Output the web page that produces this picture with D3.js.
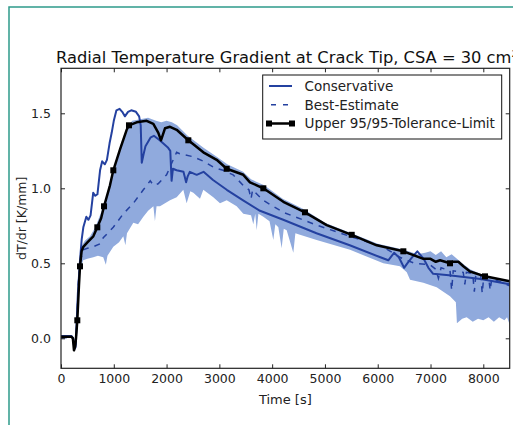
<!DOCTYPE html>
<html>
<head>
<meta charset="utf-8">
<script src="https://cdn.jsdelivr.net/npm/d3@7"></script>
<style>
  html, body { margin: 0; padding: 0; background: #fff; overflow: hidden; }
  svg { display: block; }
  text { font-family: "DejaVu Sans", sans-serif; }
</style>
</head>
<body>
<svg id="chart" width="513" height="425"></svg>
<script>
// ---------- data ----------
const xTicks = [0, 1000, 2000, 3000, 4000, 5000, 6000, 7000, 8000];
const yTicks = [0.0, 0.5, 1.0, 1.5];
const legendLabels = ["Conservative", "Best-Estimate", "Upper 95/95-Tolerance-Limit"];

const conservative = [
  [0,0.0],[10,0.015],[200,0.015],[230,0.0],[255,-0.07],[275,-0.06],[290,0.05],[320,0.30],[360,0.52],[392,0.66],[423,0.74],[480,0.81],
  [520,0.79],[560,0.82],[610,0.97],[650,0.95],[690,0.96],[740,1.12],[780,1.18],[830,1.16],[870,1.19],[920,1.30],[960,1.37],
  [1000,1.45],[1050,1.52],[1110,1.53],[1160,1.51],[1210,1.48],[1270,1.51],[1330,1.52],[1420,1.51],[1480,1.48],[1510,1.42],
  [1530,1.17],[1560,1.22],[1600,1.28],[1700,1.34],[1760,1.35],[1870,1.32],[2030,1.27],[2070,1.25],[2095,1.05],[2120,1.13],
  [2190,1.12],[2320,1.11],[2370,1.04],[2400,1.08],[2440,1.11],[2570,1.09],[2700,1.11],[2880,1.055],[3140,0.99],[3450,0.92],
  [3770,0.85],[4210,0.79],[4840,0.70],[5470,0.62],[6050,0.54],[6200,0.52],[6310,0.57],[6400,0.54],[6500,0.47],[6560,0.50],
  [6650,0.54],[6750,0.58],[6870,0.53],[6960,0.47],[7050,0.43],[7350,0.42],[7950,0.395],[8500,0.36]
];

const bestEstimate = [
  [0,0.0],[200,0.01],[230,0.0],[255,-0.06],[280,-0.04],[300,0.10],[330,0.38],[370,0.52],[420,0.59],[500,0.60],[610,0.61],
  [740,0.63],[800,0.67],[990,0.74],[1180,0.83],[1370,0.90],[1560,0.99],[1690,1.05],[1750,1.02],[1840,1.03],[2000,1.09],
  [2100,1.17],[2190,1.24],[2250,1.23],[2510,1.21],[2700,1.18],[2890,1.14],[3070,1.12],[3260,1.09],[3450,1.02],[3560,0.99],
  [3600,0.93],[3630,0.99],[3830,0.92],[4210,0.84],[4840,0.755],[5470,0.68],[6100,0.61],[6420,0.54],[6550,0.52],[6700,0.50],
  [6990,0.49],[7100,0.46],[7150,0.40],[7200,0.47],[7370,0.45],[7400,0.32],[7430,0.45],[7620,0.44],[7650,0.36],[7680,0.44],
  [7800,0.43],[7830,0.31],[7860,0.43],[7950,0.42],[7980,0.30],[8010,0.42],[8100,0.41],[8130,0.32],[8160,0.40],[8500,0.35]
];

const upperLimit = [
  [0,0.01],[200,0.01],[225,0.0],[246,-0.08],[270,-0.05],[284,0.0],[309,0.12],[340,0.35],[360,0.48],[390,0.58],[423,0.61],
  [500,0.64],[612,0.68],[688,0.74],[760,0.80],[815,0.88],[928,1.02],[991,1.12],[1118,1.26],[1244,1.39],[1288,1.42],
  [1433,1.44],[1623,1.45],[1749,1.43],[1844,1.37],[1894,1.32],[1970,1.40],[2065,1.41],[2191,1.39],[2412,1.32],[2696,1.24],
  [2949,1.19],[3139,1.13],[3454,1.09],[3580,1.04],[3833,1.00],[4212,0.91],[4622,0.84],[5033,0.755],[5507,0.69],[5981,0.62],
  [6485,0.58],[6864,0.53],[7000,0.53],[7100,0.51],[7180,0.52],[7369,0.50],[7420,0.51],[7527,0.51],[7622,0.48],[7748,0.445],
  [8032,0.413],[8500,0.38]
];

const upperMarkers = [
  [309,0.12],[360,0.48],[688,0.74],[815,0.88],[991,1.12],[1288,1.42],[2412,1.32],[3139,1.13],[3833,1.00],[4622,0.84],
  [5507,0.69],[6485,0.58],[7369,0.50],[8032,0.413]
];

const bandUpper = [
  [0,0.015],[200,0.015],[230,0.0],[250,-0.07],[280,-0.03],[300,0.12],[330,0.40],[360,0.52],[400,0.62],[450,0.65],[550,0.68],
  [650,0.74],[750,0.83],[850,0.93],[950,1.08],[1050,1.20],[1150,1.31],[1250,1.41],[1350,1.45],[1500,1.46],[1650,1.47],
  [1800,1.45],[1900,1.44],[2000,1.45],[2100,1.44],[2200,1.42],[2400,1.35],[2700,1.27],[2950,1.21],[3150,1.16],[3450,1.11],
  [3600,1.06],[3850,1.02],[4200,0.93],[4600,0.86],[5000,0.77],[5500,0.70],[6000,0.63],[6500,0.59],[6750,0.56],[6900,0.57],
  [7000,0.58],[7100,0.555],[7200,0.58],[7300,0.54],[7400,0.56],[7500,0.53],[7600,0.50],[7750,0.46],[8000,0.42],[8500,0.38]
];

const bandLower = [
  [0,0.0],[200,0.005],[230,-0.01],[250,-0.08],[275,-0.07],[300,0.05],[330,0.30],[360,0.45],[420,0.52],[500,0.53],[612,0.54],
  [700,0.55],[800,0.54],[850,0.49],[880,0.55],[991,0.61],[1100,0.64],[1180,0.68],[1220,0.62],[1250,0.70],[1370,0.77],
  [1460,0.76],[1560,0.81],[1650,0.85],[1750,0.88],[1780,0.78],[1810,0.88],[1875,0.88],[2065,0.92],[2191,0.94],[2317,0.99],
  [2380,0.90],[2450,0.98],[2507,0.97],[2633,0.93],[2696,0.99],[2885,0.94],[3012,0.90],[3139,0.92],[3328,0.88],[3454,0.83],
  [3600,0.82],[3643,0.76],[3680,0.83],[3707,0.72],[3740,0.83],[3833,0.81],[3950,0.78],[4022,0.655],[4060,0.76],[4117,0.74],
  [4180,0.60],[4220,0.73],[4275,0.72],[4401,0.57],[4440,0.70],[4527,0.69],[4843,0.655],[5475,0.59],[6106,0.50],[6422,0.48],
  [6550,0.44],[6612,0.39],[6864,0.37],[7116,0.34],[7369,0.28],[7480,0.24],[7500,0.10],[7600,0.13],[7685,0.14],[7800,0.11],
  [7900,0.13],[8000,0.12],[8100,0.14],[8200,0.11],[8300,0.14],[8400,0.12],[8450,0.14],[8500,0.09]
];

// ---------- layout ----------
const svg = d3.select("#chart");
const L = 61, R = 509.7, T = 68.3, B = 368.3;
const x = d3.scaleLinear().domain([0, 8500]).range([L, R]);
const y = d3.scaleLinear().domain([-0.2, 1.8]).range([B, T]);

const blue = "#2441a0";
const bandColor = "#90aadd";

// teal frame (screenshot border)
svg.append("path").attr("d", "M9,425V7H513").attr("fill", "none")
  .attr("stroke", "#2e9a8a").attr("stroke-width", 1.5);

svg.append("clipPath").attr("id", "clip").append("rect")
  .attr("x", L).attr("y", T).attr("width", R - L).attr("height", B - T);

const g = svg.append("g").attr("clip-path", "url(#clip)");
const line = d3.line().x(d => x(d[0])).y(d => y(d[1]));

// band
g.append("path")
  .attr("d", line(bandUpper.concat(bandLower.slice().reverse())) + "Z")
  .attr("fill", bandColor).attr("stroke", "none");

// best estimate (dashed)
g.append("path").attr("d", line(bestEstimate)).attr("fill", "none")
  .attr("stroke", blue).attr("stroke-width", 1.5).attr("stroke-dasharray", "6,6");

// conservative
g.append("path").attr("d", line(conservative)).attr("fill", "none")
  .attr("stroke", blue).attr("stroke-width", 2).attr("stroke-linejoin", "round");

// upper tolerance limit
g.append("path").attr("d", line(upperLimit)).attr("fill", "none")
  .attr("stroke", "#000").attr("stroke-width", 2.5).attr("stroke-linejoin", "round");
g.selectAll("rect.mk").data(upperMarkers).enter().append("rect").attr("class", "mk")
  .attr("x", d => x(d[0]) - 3).attr("y", d => y(d[1]) - 3)
  .attr("width", 6).attr("height", 6).attr("fill", "#000");

// ---------- axes ----------
const fs = "12.5px";
const ax = svg.append("g").attr("transform", `translate(0,${B})`)
  .call(d3.axisBottom(x).tickValues(xTicks).tickFormat(d3.format("d")).tickSize(-4).tickPadding(6));
const axT = svg.append("g").attr("transform", `translate(0,${T})`)
  .call(d3.axisTop(x).tickValues(xTicks).tickFormat("").tickSize(-4));
const ay = svg.append("g").attr("transform", `translate(${L},0)`)
  .call(d3.axisLeft(y).tickValues(yTicks).tickFormat(d3.format(".1f")).tickSize(-4).tickPadding(10));
const ayR = svg.append("g").attr("transform", `translate(${R},0)`)
  .call(d3.axisRight(y).tickValues(yTicks).tickFormat("").tickSize(-4));
[ax, axT, ay, ayR].forEach(a => {
  a.select(".domain").remove();
  a.selectAll(".tick line").attr("stroke", "#222").attr("stroke-width", 1);
  a.selectAll(".tick text").attr("font-family", "DejaVu Sans").attr("font-size", fs).attr("fill", "#222");
});

svg.append("rect").attr("x", L).attr("y", T).attr("width", R - L).attr("height", B - T)
  .attr("fill", "none").attr("stroke", "#222").attr("stroke-width", 1.2);

// labels
svg.append("text").attr("x", 56).attr("y", 62.5).attr("text-anchor", "start")
  .attr("font-size", "16.3px").attr("fill", "#111")
  .text("Radial Temperature Gradient at Crack Tip, CSA = 30 cm²");
svg.append("text").attr("x", (L + R) / 2).attr("y", 404).attr("text-anchor", "middle")
  .attr("font-size", "13px").attr("fill", "#222").text("Time [s]");
svg.append("text").attr("transform", `translate(26,${(T + B) / 2}) rotate(-90)`)
  .attr("text-anchor", "middle").attr("font-size", "12.5px").attr("fill", "#222").text("dT/dr [K/mm]");

// ---------- legend ----------
const lg = svg.append("g");
lg.append("rect").attr("x", 262.7).attr("y", 75).attr("width", 239).attr("height", 64)
  .attr("fill", "#fff").attr("stroke", "#111").attr("stroke-width", 1);
const rows = [86, 104.8, 123.5];
const hx0 = 269, hx1 = 292;
lg.append("line").attr("x1", hx0).attr("x2", hx1).attr("y1", rows[0]).attr("y2", rows[0])
  .attr("stroke", blue).attr("stroke-width", 2);
lg.append("line").attr("x1", hx0).attr("x2", hx1).attr("y1", rows[1]).attr("y2", rows[1])
  .attr("stroke", blue).attr("stroke-width", 1.5).attr("stroke-dasharray", "5,7").attr("stroke-dashoffset", -2);
lg.append("line").attr("x1", hx0).attr("x2", hx1).attr("y1", rows[2]).attr("y2", rows[2])
  .attr("stroke", "#000").attr("stroke-width", 2.5);
[hx0, hx1].forEach(px => lg.append("rect").attr("x", px - 3).attr("y", rows[2] - 3)
  .attr("width", 6).attr("height", 6).attr("fill", "#000"));
legendLabels.forEach((t, i) => lg.append("text").attr("x", 304.5).attr("y", rows[i]).attr("dy", "0.35em")
  .attr("font-size", "13.5px").attr("fill", "#222").text(t));
</script>
</body>
</html>
